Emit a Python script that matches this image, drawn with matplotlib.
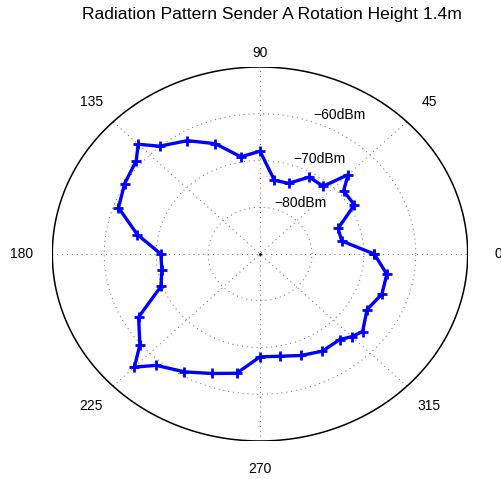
import numpy as np
import matplotlib
matplotlib.use("Agg")
import matplotlib.pyplot as plt

plt.rcParams['font.family'] = ['Liberation Sans', 'DejaVu Sans']

# measured angles (deg) and received power (dBm)
angles = [0, 10, 20, 30, 40, 45, 50, 60, 70, 80,
          90, 100, 110, 120, 130, 135, 140, 150, 160, 170,
          180, 190, 200, 210, 220, 225, 230, 240, 250, 260,
          270, 280, 290, 300, 310, 315, 320, 330, 340, 350, 360]
power = [-68.0, -74.0, -74.0, -69.0, -69.0, -66.0, -71.1, -71.0, -73.9, -74.0,
         -68.0, -68.9, -64.9, -62.0, -59.9, -56.8, -58.9, -59.9, -61.0, -66.0,
         -70.9, -70.8, -69.7, -63.0, -59.8, -55.8, -58.9, -60.9, -62.8, -64.1,
         -68.0, -67.8, -66.9, -66.0, -66.1, -65.0, -64.2, -66.2, -65.0, -65.2, -68.0]

ring_db = [-80, -70, -60]
ring_labels = ['\u221280dBm', '\u221270dBm', '\u221260dBm']
angle_ticks = [0, 45, 90, 135, 180, 225, 270, 315]

r_min = -90.0   # power at the centre
r_step = 10.0   # dB per ring
r_max = 4       # outer boundary in ring units

fig = plt.figure(figsize=(5.02, 4.79), dpi=100)
ax = fig.add_axes([52.3 / 502, (479 - 441) / 479, 415.4 / 502, 374 / 479])
ax.set_xlim(-r_max, r_max)
ax.set_ylim(-r_max, r_max)
ax.axis('off')

t = np.linspace(0, 2 * np.pi, 400)
dot = dict(color='0.4', lw=0.7, ls=(0, (1, 4)))

# dotted rings and spokes
for db in ring_db:
    rr = (db - r_min) / r_step
    ax.plot(rr * np.cos(t), rr * np.sin(t), **dot)
for a in angle_ticks[:4]:
    c, s = np.cos(np.radians(a)), np.sin(np.radians(a))
    ax.plot([-r_max * c, r_max * c], [-r_max * s, r_max * s], **dot)
ax.plot([0], [0], 'k.', ms=2)

# outer boundary
ax.plot(r_max * np.cos(t), r_max * np.sin(t), color='black', lw=1.1)

# ring labels
for i, lab in enumerate(ring_labels, start=1):
    ax.text(i * 0.375 - 0.1, i * 0.94 + 0.15, lab, ha='left', va='center',
            fontsize=10)

# angle labels
for a in angle_ticks:
    rl = 4.3 if a == 90 else 4.6
    ax.text(rl * np.cos(np.radians(a)), rl * np.sin(np.radians(a)), str(a),
            ha='center', va='center', fontsize=10, clip_on=False)

# radiation pattern
th = np.radians(angles)
r = (np.array(power) - r_min) / r_step
ax.plot(r * np.cos(th), r * np.sin(th), color='#0000ff', lw=2.4,
        marker='+', ms=7.5, mew=2, clip_on=False)

fig.text(271.5 / 502, 1 - 15 / 479, 'Radiation Pattern Sender A Rotation Height 1.4m',
         ha='center', va='center', fontsize=12.6)

fig.savefig('out.png', dpi=100)
